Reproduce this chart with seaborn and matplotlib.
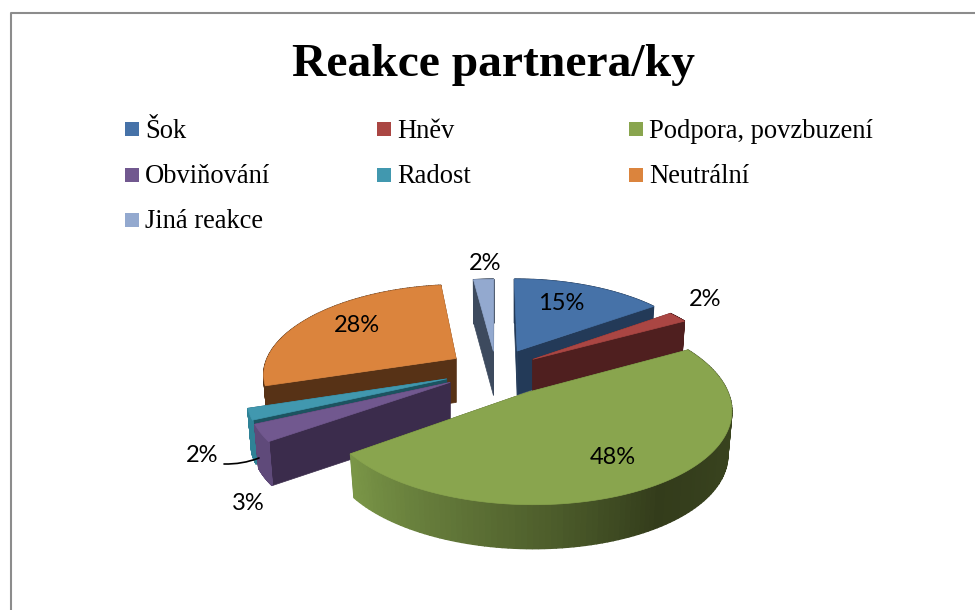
"""Reakce partnera/ky, exploded 3D style pie."""

import numpy as np
import matplotlib.pyplot as plt
from matplotlib.patches import Rectangle
import seaborn as sns

labels = ["Šok", "Hněv", "Podpora, povzbuzení", "Obviňování", "Radost", "Neutrální", "Jiná reakce"]
values = [15, 2, 48, 3, 2, 28, 2]
top_colors = ["#4672A8", "#AA4643", "#89A54E", "#71588F", "#4198AF", "#DB843D", "#93A9CF"]
side_colors = ["#233A58", "#4F1F1F", "#38421E", "#3B2C4C", "#1C5360", "#573216", "#3D4A5E"]
rim_colors = ["#233A58", "#4F1F1F", "#38421E", "#5F4A7A", "#2F8296", "#573216", "#3D4A5E"]
explode = [0.25, 0.23, 0.29, 0.27, 0.27, 0.25, 0.22]
draw_order = [6, 0, 5, 4, 1, 3, 2]

# projection of the tilted disc onto the pixel grid
CX, CY = 496, 370
RX, RY = 193, 88
PERSP_X, PERSP_Y = 0.16, 0.15
DEPTH = 44
BASE_SHRINK = 0.98
STEPS = 120


def project(x, y):
    return CX + RX * x / (1 + PERSP_X * y), CY - RY * y / (1 + PERSP_Y * y)


sns.set_theme(style="white")
fig = plt.figure(figsize=(9.75, 6.1), dpi=100)
ax = fig.add_axes([0, 0, 1, 1])
ax.set_xlim(0, 975)
ax.set_ylim(610, 0)
ax.axis("off")

# frame of the pasted chart, open on the right and at the bottom
ax.plot([10.5, 10.5, 975], [610, 12.5, 12.5], color="#8c8c8c", lw=1.5)

ax.text(494, 76, "Reakce partnera/ky", family="Liberation Serif", weight="bold",
        fontsize=34.2, ha="center", va="baseline", color="black")

# legend, filled row by row
for i, (name, col) in enumerate(zip(labels, top_colors)):
    lx = 125 + 252 * (i % 3)
    ly = 129 + 45.5 * (i // 3)
    ax.add_patch(Rectangle((lx, ly - 7), 14, 14, color=col, lw=0))
    ax.text(lx + 20, ly + 8.5, name, family="Liberation Serif", fontsize=19.1, va="baseline", color="black")

edges = np.cumsum([0] + values) / sum(values) * 2 * np.pi
rim_shades = sns.blend_palette(["#7A9647", "#647A3A", "#4D5D2B", "#333C1B", "#38421E", "#3A441F", "#3C4620"], STEPS - 1)

for i in draw_order:
    a0, a1 = edges[i], edges[i + 1]
    mid = (a0 + a1) / 2
    ox, oy = explode[i] * np.sin(mid), explode[i] * np.cos(mid)
    theta = np.linspace(a0, a1, STEPS)
    px, py = project(ox + np.sin(theta), oy + np.cos(theta))
    apx, apy = project(ox, oy)
    # the base sits a little further away, so it reads narrower
    bx = apx + (px - apx) * BASE_SHRINK
    by = py + DEPTH

    # radial walls
    for j in (0, -1):
        ax.fill([apx, px[j], bx[j], apx], [apy, py[j], by[j], apy + DEPTH],
                color=side_colors[i], lw=0.5)

    # outer rim, the big slice gets the light falloff
    for k in range(STEPS - 1):
        shade = rim_shades[STEPS - 2 - k] if i == 2 else rim_colors[i]
        ax.fill([px[k], px[k + 1], bx[k + 1], bx[k]],
                [py[k], py[k + 1], by[k + 1], by[k]],
                color=shade, lw=1)

    ax.fill(np.r_[apx, px], np.r_[apy, py], color=top_colors[i], lw=0.5)

pct_font = dict(family="Lato", fontsize=17, ha="center", va="center", color="black")
label_pos = [(561, 304), (705, 300), (613, 458), (248, 504), (202, 456), (357, 325), (485, 263)]
for v, (tx, ty) in zip(values, label_pos):
    ax.text(tx, ty, f"{v}%", **pct_font)

# leader line of the small Radost slice
ax.annotate("", xy=(259, 458), xytext=(224, 464),
            arrowprops=dict(arrowstyle="-", color="black", lw=1.2,
                            connectionstyle="arc3,rad=0.1", shrinkA=0, shrinkB=0))

fig.savefig("out.png", dpi=100)
